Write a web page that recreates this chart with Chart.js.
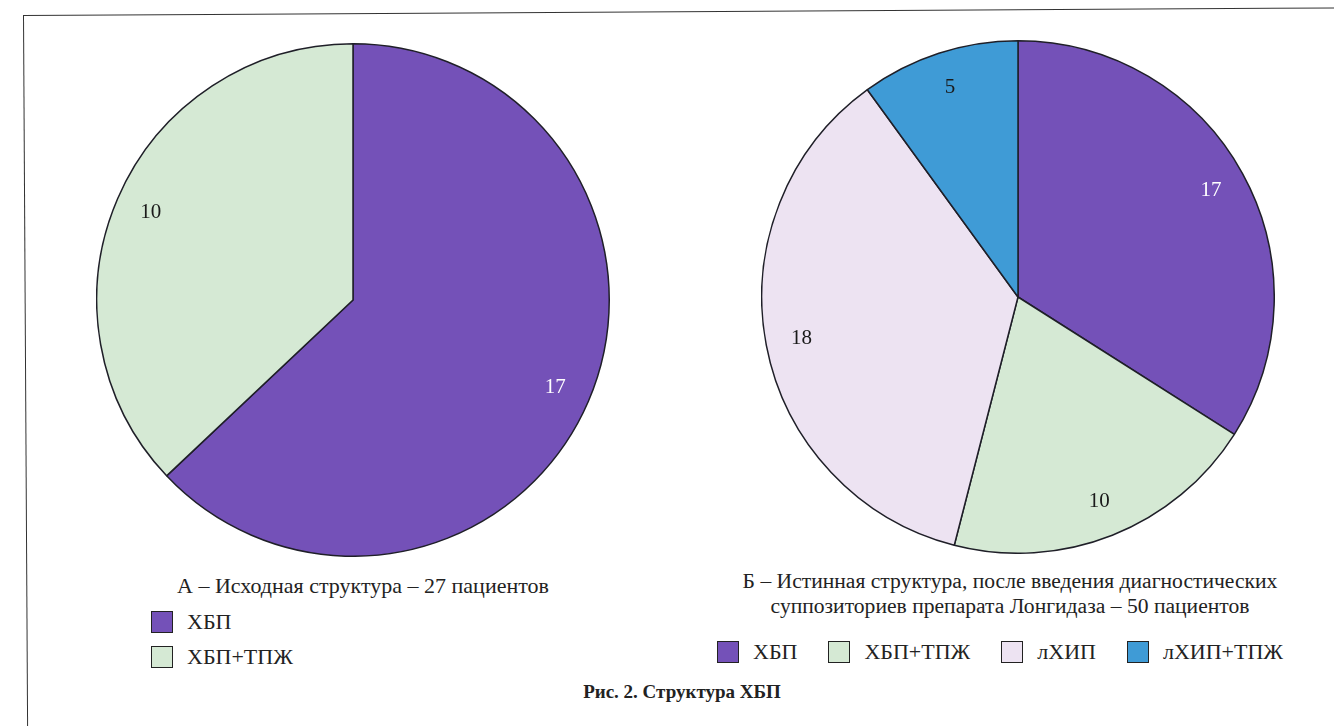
<!DOCTYPE html>
<html lang="ru">
<head>
    <meta charset="UTF-8">
    <title>Структура ХБП</title>
    <script src="https://cdn.jsdelivr.net/npm/chart.js"></script>
    <style>
        body { margin: 0; background: #fff; font-family: "Liberation Serif", "Times New Roman", serif; color: #222; }
        #page { position: relative; width: 1334px; height: 726px; overflow: hidden; }
        #frame { position: absolute; left: 23px; top: 15px; width: 1400px; height: 800px;
                 border-left: 1.5px solid #333; border-top: 1.5px solid #333;
                 transform: rotate(-0.33deg); transform-origin: 0 0; }
        canvas { position: absolute; }
        .title { position: absolute; font-size: 22px; line-height: 25px; text-align: center; white-space: nowrap; }
        .legend { position: absolute; font-size: 22px; }
        .legend .item { display: flex; align-items: center; white-space: nowrap; }
        .legend .box { width: 20px; height: 20px; border: 1.5px solid #222; margin-right: 14px; }
        #legendA .item { height: 35px; }
        #legendB { display: flex; }
        #legendB .item { margin-right: 31px; }
        #caption { position: absolute; left: 0; width: 1364px; top: 681px; text-align: center;
                   font-weight: bold; font-size: 19px; }
    </style>
</head>
<body>
<div id="page">
    <div id="frame"></div>
    <canvas id="pieA" width="514" height="514" style="left:96px; top:43px;"></canvas>
    <canvas id="pieB" width="514" height="514" style="left:761px; top:40px;"></canvas>

    <div class="title" style="left:163px; width:400px; top:573px;">А – Исходная структура – 27 пациентов</div>
    <div class="legend" id="legendA" style="left:151px; top:604px;"></div>

    <div class="title" style="left:710px; width:600px; top:569px; font-size:21.6px;">Б – Истинная структура, после введения диагностических<br>суппозиториев препарата Лонгидаза – 50 пациентов</div>
    <div class="legend" id="legendB" style="left:717px; top:639px;"></div>

    <div id="caption">Рис. 2. Структура ХБП</div>
</div>

<script>
    // Данные
    const labelsA = ["ХБП", "ХБП+ТПЖ"];
    const valuesA = [17, 10];

    const labelsB = ["ХБП", "ХБП+ТПЖ", "лХИП", "лХИП+ТПЖ"];
    const valuesB = [17, 10, 18, 5];

    const colors = {
        "ХБП": "#7451b8",
        "ХБП+ТПЖ": "#d5e9d4",
        "лХИП": "#ede3f2",
        "лХИП+ТПЖ": "#3f9bd6"
    };
    const textColors = { "ХБП": "#ffffff" };

    // подписи значений внутри секторов
    const valueLabels = {
        id: "valueLabels",
        afterDatasetsDraw(chart) {
            const ctx = chart.ctx;
            const meta = chart.getDatasetMeta(0);
            const ds = chart.data.datasets[0];
            ctx.save();
            ctx.font = "21px 'Liberation Serif', serif";
            ctx.textAlign = "center";
            ctx.textBaseline = "middle";
            meta.data.forEach((arc, i) => {
                const p = arc.getProps(["x", "y", "startAngle", "endAngle", "outerRadius"], true);
                const mid = (p.startAngle + p.endAngle) / 2;
                const r = p.outerRadius * 0.86;
                ctx.fillStyle = textColors[chart.data.labels[i]] || "#1a1a1a";
                ctx.fillText(ds.data[i], p.x + Math.cos(mid) * r, p.y + Math.sin(mid) * r);
            });
            ctx.restore();
        }
    };

    function makePie(id, labels, values) {
        new Chart(document.getElementById(id), {
            type: "pie",
            data: {
                labels: labels,
                datasets: [{
                    data: values,
                    backgroundColor: labels.map(l => colors[l]),
                    borderColor: "#1f1f28",
                    borderWidth: 1.5
                }]
            },
            options: {
                responsive: false,
                animation: false,
                layout: { padding: 0 },
                plugins: { legend: { display: false }, tooltip: { enabled: false } }
            },
            plugins: [valueLabels]
        });
    }

    function makeLegend(id, labels) {
        const el = document.getElementById(id);
        labels.forEach(l => {
            const item = document.createElement("div");
            item.className = "item";
            item.innerHTML = '<span class="box" style="background:' + colors[l] + '"></span><span>' + l + '</span>';
            el.appendChild(item);
        });
    }

    makePie("pieA", labelsA, valuesA);
    makePie("pieB", labelsB, valuesB);
    makeLegend("legendA", labelsA);
    makeLegend("legendB", labelsB);
</script>
</body>
</html>
